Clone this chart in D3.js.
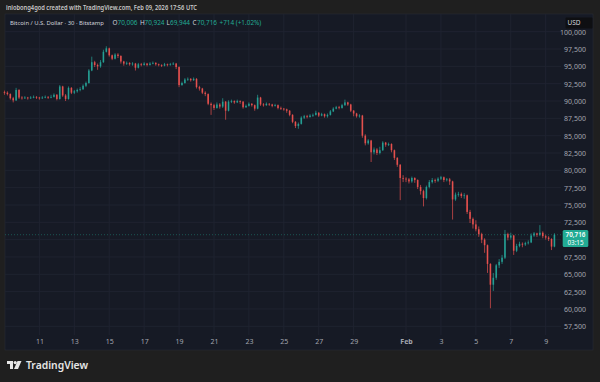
<!DOCTYPE html>
<html><head><meta charset="utf-8">
<script src="https://cdn.jsdelivr.net/npm/d3@7"></script>
<style>
html,body{margin:0;padding:0;background:#1f1f1f;}
svg{display:block;}
</style></head>
<body>
<svg id="chart" width="600" height="382"></svg>
<script>
// ---- data (BTC/USD, thousands of USD, 4h candles) ----
const startTime = Date.UTC(2026, 0, 9, 0, 0);   // first candle open
const stepHours = 4;
const firstOpen = 91.3;
const closes = [
 91.2,91.0,90.4,90.1,91.6,90.5,90.4,90.5,90.4,90.5, 90.6,90.5,90.4,90.5,90.6,90.5,90.6,90.9,90.3,92.1,
 90.8,90.3,91.9,91.2,91.4,91.6,91.7,92.2,92.6,94.4, 95.6,95.2,95.0,95.6,97.1,97.6,96.6,96.1,96.7,96.5,
 95.7,95.4,95.5,95.3,95.4,94.8,95.3,95.2,95.4,95.2, 95.4,95.5,95.3,95.2,95.1,95.3,95.2,95.3,95.4,94.9,
 92.3,92.6,93.1,93.2,93.0,93.2,92.0,91.8,91.2,91.0, 89.6,89.4,89.0,89.5,89.2,89.9,88.6,89.9,90.0,89.8,
 90.0,89.9,89.1,89.3,89.6,89.4,88.9,90.5,89.5,89.4, 89.6,89.5,89.3,89.4,89.0,88.9,88.8,88.6,88.0,87.0,
 86.4,86.7,87.6,87.8,87.7,87.9,88.0,88.3,87.9,88.1, 87.8,88.0,88.5,88.9,89.1,89.0,89.4,89.8,89.5,88.6,
 88.2,87.8,87.9,85.0,83.9,84.3,82.6,83.0,82.5,82.9, 84.0,83.7,83.8,82.9,81.8,80.8,78.9,78.8,78.7,78.4,
 78.9,78.6,77.6,77.0,76.0,77.6,78.3,78.6,78.5,78.8, 79.0,78.6,78.7,78.4,75.8,76.5,76.6,76.3,76.4,74.0,
 73.0,72.2,71.5,70.8,70.0,69.2,66.5,63.5,64.5,66.3, 66.8,67.4,70.8,70.3,70.6,68.4,69.1,69.4,69.3,69.5,
 69.6,70.6,70.9,70.7,71.0,70.5,70.3,70.1,69.0,70.716
];
const highs = [
 91.5,91.4,91.1,90.6,91.9,91.7,90.7,90.7,90.6,90.7, 90.8,90.7,90.6,90.7,90.8,90.7,90.9,91.1,91.0,92.3,
 92.2,91.0,92.1,92.0,91.6,91.8,92.0,92.4,92.8,94.6, 96.4,95.8,95.4,95.9,97.4,97.9,97.7,96.7,96.9,96.9,
 96.6,95.8,95.7,95.6,95.6,95.5,95.5,95.5,95.6,95.5, 95.6,95.7,95.6,95.4,95.3,95.5,95.4,95.5,95.6,95.5,
 95.0,92.8,93.3,93.4,93.3,93.4,93.3,92.2,91.9,91.4, 91.1,89.8,89.6,89.8,89.7,90.4,90.0,90.1,90.2,90.1,
 90.2,90.1,90.0,89.5,89.8,89.7,89.5,90.9,90.6,89.7, 89.8,89.7,89.6,89.6,89.5,89.2,89.0,88.9,88.7,88.1,
 87.1,86.9,87.8,88.0,88.0,88.1,88.2,88.6,88.4,88.3, 88.2,88.2,88.7,89.1,89.3,89.3,89.6,90.2,89.9,89.6,
 88.7,88.3,88.1,88.0,85.2,84.5,84.4,83.3,83.2,83.4, 84.2,84.1,84.0,83.9,83.0,81.9,80.9,79.3,79.0,78.9,
 79.1,79.0,78.7,77.9,77.2,77.8,78.6,78.9,78.8,79.0, 79.2,79.1,78.9,78.9,78.5,76.8,76.9,76.8,76.7,76.5,
 74.3,73.2,72.8,71.9,71.0,70.2,69.3,66.6,65.2,66.5, 67.2,67.8,71.4,71.0,71.0,70.7,69.4,69.7,69.6,69.7,
 69.9,70.9,71.1,71.0,72.1,71.2,70.7,70.5,70.2,70.924
];
const lows = [
 90.9,90.8,90.2,89.8,90.0,90.3,90.2,90.3,90.2,90.3, 90.4,90.3,90.2,90.3,90.4,90.3,90.4,90.5,90.1,90.2,
 90.6,90.0,90.2,91.0,91.0,91.2,91.4,91.6,92.0,92.5, 94.3,94.9,94.5,94.8,95.5,97.0,96.4,95.9,96.0,96.2,
 95.4,95.1,95.2,95.1,95.1,94.4,94.7,95.0,95.1,95.0, 95.1,95.3,95.1,95.0,94.9,95.0,95.0,95.1,95.2,94.6,
 92.0,92.2,92.5,92.9,92.8,92.9,91.8,91.5,91.0,90.7, 89.4,88.0,88.7,88.9,88.9,89.0,87.3,88.5,89.7,89.6,
 89.7,89.6,88.9,89.0,89.2,89.2,88.6,88.8,89.3,89.2, 89.3,89.3,89.1,89.2,88.8,88.7,88.6,88.3,87.8,86.8,
 86.1,86.0,86.6,87.4,87.5,87.6,87.7,87.9,87.7,87.8, 87.6,87.6,87.9,88.4,88.8,88.8,88.9,89.3,89.3,88.4,
 87.8,87.6,87.6,84.7,83.6,83.7,81.2,82.3,82.2,82.3, 82.8,83.4,83.5,82.6,81.5,80.5,75.7,78.3,78.3,78.1,
 78.2,78.2,77.3,76.5,74.8,75.8,77.4,78.1,78.2,78.3, 78.6,78.3,78.4,77.9,72.9,75.6,76.2,76.0,75.9,73.7,
 72.4,71.6,71.2,70.4,69.5,68.1,65.2,60.1,62.6,64.2, 65.9,66.5,67.2,69.9,70.0,67.8,68.2,68.9,68.9,69.1,
 69.3,69.5,70.4,70.4,70.5,70.2,70.0,69.8,68.5,68.9
];
const priceTicks = [57500,60000,62500,65000,67500,70000,72500,75000,77500,80000,82500,85000,87500,90000,92500,95000,97500,100000];
const hiddenPriceLabels = [70000];   // covered by the last-price tag in the reference
const dateTicks = [
  Date.UTC(2026,0,11),Date.UTC(2026,0,13),Date.UTC(2026,0,15),Date.UTC(2026,0,17),Date.UTC(2026,0,19),
  Date.UTC(2026,0,21),Date.UTC(2026,0,23),Date.UTC(2026,0,25),Date.UTC(2026,0,27),Date.UTC(2026,0,29),
  Date.UTC(2026,1,1),Date.UTC(2026,1,3),Date.UTC(2026,1,5),Date.UTC(2026,1,7),Date.UTC(2026,1,9)
];
const headerText = "iniobong4god created with TradingView.com, Feb 09, 2026 17:56 UTC";
const symbolText = "Bitcoin / U.S. Dollar · 30 · Bitstamp";
const ohlcLegend = [["O","70,006"],["H","70,924"],["L","69,944"],["C","70,716"]];
const changeText = "+714 (+1.02%)";
const lastPrice = 70716;
const lastPriceLabel = "70,716";
const countdown = "03:15";

// ---- build candles ----
const candles = closes.map((c,i)=>({
  t: new Date(startTime + i*stepHours*3600e3),
  o: (i===0?firstOpen:closes[i-1])*1000,
  h: highs[i]*1000, l: lows[i]*1000, c: c*1000
}));

const UP="#26a69a", DOWN="#ef5350";
const svg = d3.select("#chart");
const FONT = "'Noto Sans', 'DejaVu Sans', sans-serif";

// frame
svg.append("rect").attr("width",600).attr("height",382).attr("fill","#1f1f1f");
const panel = {x:5, y:14, w:588, h:336};
svg.append("rect").attr("x",panel.x).attr("y",panel.y).attr("width",panel.w).attr("height",panel.h)
  .attr("fill","#161a25").attr("stroke","#2a2e39").attr("stroke-width",0.5);

const plotRight = 561;
const x = d3.scaleUtc().domain([new Date(Date.UTC(2026,0,11)), new Date(Date.UTC(2026,1,9))]).range([39.4, 545.7]);
const y = d3.scaleLinear().domain([57500,100000]).range([326.3, 31.7]);

// grid
const grid = svg.append("g");
grid.selectAll("line.h").data(priceTicks).join("line")
  .attr("x1",panel.x).attr("x2",plotRight).attr("y1",d=>y(d)).attr("y2",d=>y(d))
  .attr("stroke","#1f2330").attr("stroke-width",1);
grid.selectAll("line.v").data(dateTicks).join("line")
  .attr("x1",d=>x(new Date(d))).attr("x2",d=>x(new Date(d))).attr("y1",panel.y).attr("y2",335)
  .attr("stroke","#1f2330").attr("stroke-width",1);

// last price dotted line
svg.append("line").attr("x1",panel.x).attr("x2",plotRight).attr("y1",y(lastPrice)).attr("y2",y(lastPrice))
  .attr("stroke","#22ab94").attr("stroke-opacity",0.5).attr("stroke-width",0.8).attr("stroke-dasharray","1,2");

// candles
const bw = (x(new Date(startTime+stepHours*3600e3)) - x(new Date(startTime))) * 0.55;
const cg = svg.append("g");
cg.selectAll("line.w").data(candles).join("line")
  .attr("x1",d=>x(d.t)).attr("x2",d=>x(d.t)).attr("y1",d=>y(d.h)).attr("y2",d=>y(d.l))
  .attr("stroke",d=>d.c>=d.o?UP:DOWN).attr("stroke-width",0.8).attr("stroke-opacity",0.85);
cg.selectAll("rect").data(candles).join("rect")
  .attr("x",d=>x(d.t)-bw/2).attr("width",bw)
  .attr("y",d=>y(Math.max(d.o,d.c))).attr("height",d=>Math.max(0.8, Math.abs(y(d.o)-y(d.c))))
  .attr("fill",d=>d.c>=d.o?UP:DOWN).attr("fill-opacity",0.88);

// y axis
const yAxis = d3.axisRight(y).tickValues(priceTicks.filter(d=>!hiddenPriceLabels.includes(d)))
  .tickSize(0).tickPadding(0).tickFormat(d3.format(","));
const ya = svg.append("g").attr("transform",`translate(586,0)`).call(yAxis);
ya.select(".domain").remove();
ya.selectAll("text").attr("text-anchor","end").attr("fill","#a3a6af").style("font-family",FONT).style("font-size","7px")
  .attr("dy","0.35em");

// x axis
const xAxis = d3.axisBottom(x).tickValues(dateTicks.map(d=>new Date(d))).tickSize(0).tickPadding(0)
  .tickFormat(d=> d.getUTCDate()===1 ? d3.utcFormat("%b")(d) : d.getUTCDate());
const xa = svg.append("g").attr("transform","translate(0,340)").call(xAxis);
xa.select(".domain").remove();
xa.selectAll("text").attr("fill","#a3a6af").style("font-family",FONT).style("font-size","7px")
  .style("font-weight",d=>d.getUTCDate()===1?"700":"400").attr("dy","0.6em");

// last price label
const ly = y(lastPrice);
svg.append("rect").attr("x",562.7).attr("y",ly-4.6).attr("width",25.6).attr("height",17).attr("rx",1.5)
  .attr("fill","#22ab94");
svg.append("text").attr("x",575.5).attr("y",ly).attr("dy","0.35em").attr("text-anchor","middle")
  .attr("fill","#ffffff").style("font-family",FONT).style("font-size","6.3px").style("font-weight","600").text(lastPriceLabel);
svg.append("text").attr("x",575.5).attr("y",ly+8.4).attr("dy","0.35em").attr("text-anchor","middle")
  .attr("fill","#ffffff").style("font-family",FONT).style("font-size","6.3px").text(countdown);

// USD box
svg.append("rect").attr("x",565.5).attr("y",17.5).attr("width",27).attr("height",11).attr("rx",1).attr("fill","#0e0f12");
svg.append("text").attr("x",574).attr("y",23).attr("dy","0.35em").attr("text-anchor","middle")
  .attr("fill","#d1d4dc").style("font-family",FONT).style("font-size","6.5px").text("USD");

// header
svg.append("text").attr("x",6).attr("y",7.5).attr("dy","0.35em").attr("fill","#c8c8c8")
  .style("font-family",FONT).style("font-size","7px").style("font-weight","600")
  .attr("textLength",191).attr("lengthAdjust","spacingAndGlyphs").text(headerText);

// legend: one text element with positioned tspans
const leg = svg.append("text").attr("y",22.7).attr("dy","0.35em")
  .style("font-family",FONT).style("font-size","6.4px");
leg.append("tspan").attr("x",10).attr("fill","#d1d4dc").style("font-size","5.9px").text(symbolText);
const legX = [[112.5,117.5],[140,144.5],[166.5,170],[192.5,197]];
ohlcLegend.forEach((p,i)=>{
  leg.append("tspan").attr("x",legX[i][0]).attr("fill","#d1d4dc").text(p[0]);
  leg.append("tspan").attr("x",legX[i][1]).attr("fill","#22ab94").text(p[1]);
});
leg.append("tspan").attr("x",219.5).attr("fill","#22ab94").text(changeText);

// TradingView logo
const logo = svg.append("g").attr("transform","translate(7,361)").attr("fill","#e6e6e6");
logo.append("path").attr("d","M0,0 H6 V8 H3 V3 H0 Z");
logo.append("circle").attr("cx",8.2).attr("cy",1.6).attr("r",1.6);
logo.append("path").attr("d","M10.5,0 H14.5 L11,8 H7 Z");
svg.append("text").attr("x",26).attr("y",365.5).attr("dy","0.35em").attr("fill","#e6e6e6")
  .style("font-family",FONT).style("font-size","11px").style("font-weight","600")
  .attr("textLength",62).attr("lengthAdjust","spacingAndGlyphs").text("TradingView");
</script>
</body></html>
